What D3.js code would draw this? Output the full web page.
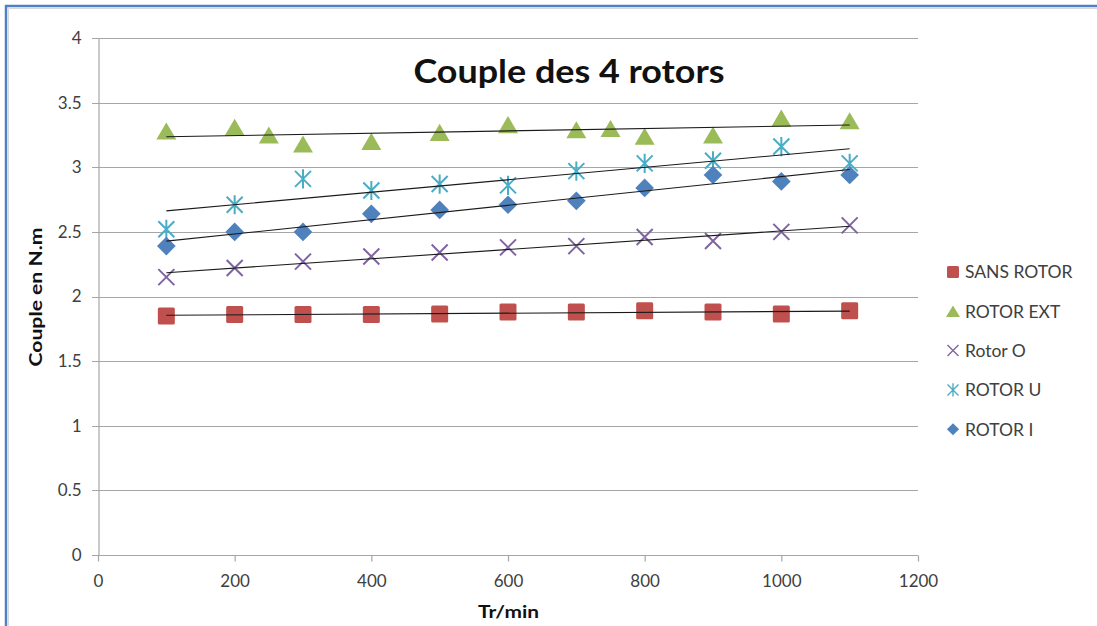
<!DOCTYPE html>
<html><head><meta charset="utf-8">
<script src="https://cdn.jsdelivr.net/npm/d3@7"></script>
<style>
html,body{margin:0;padding:0;background:#fff;}
svg{display:block;font-family:Lato, "Open Sans", sans-serif;}
</style></head>
<body>
<svg id="c" width="1097" height="626"></svg>
<script>
const xTicks = [0,200,400,600,800,1000,1200];
const yTicks = [0,0.5,1,1.5,2,2.5,3,3.5,4];
const yTickLabels = ["0","0.5","1","1.5","2","2.5","3","3.5","4"];

const xStd = [100,200,300,400,500,600,700,800,900,1000,1100];
const sansRotor = [1.85,1.86,1.86,1.86,1.865,1.88,1.88,1.89,1.88,1.865,1.89];
const xExt = [100,200,250,300,400,500,600,700,750,800,900,1000,1100];
const rotorExt = [3.28,3.31,3.25,3.18,3.20,3.27,3.33,3.29,3.30,3.24,3.25,3.38,3.36];
const rotorO = [2.15,2.22,2.27,2.31,2.34,2.38,2.39,2.46,2.43,2.50,2.55];
const rotorU = [2.52,2.71,2.91,2.82,2.87,2.86,2.97,3.03,3.05,3.16,3.03];
const rotorI = [2.39,2.50,2.50,2.64,2.67,2.71,2.74,2.84,2.94,2.89,2.94];

const seriesNames = ["SANS ROTOR","ROTOR EXT","Rotor O","ROTOR U","ROTOR I"];
const seriesColors = ["#C0504D","#9BBB59","#8064A2","#4BACC6","#4F81BD"];
const seriesX = [xStd,xExt,xStd,xStd,xStd];
const seriesY = [sansRotor,rotorExt,rotorO,rotorU,rotorI];
const seriesShape = ["square","triangle","x","asterisk","diamond"];

const svg = d3.select("#c");
const x = d3.scaleLinear().domain([0,1200]).range([98,918]);
const y = d3.scaleLinear().domain([0,4]).range([555,38]);

// frame
svg.append("line").attr("x1",5).attr("x2",1097).attr("y1",6).attr("y2",6).attr("stroke","#4F81C7").attr("stroke-width",2.5);
svg.append("line").attr("x1",6).attr("x2",6).attr("y1",5).attr("y2",626).attr("stroke","#4F81C7").attr("stroke-width",2.5);
svg.append("line").attr("x1",8.5).attr("x2",1097).attr("y1",8.5).attr("y2",8.5).attr("stroke","#d8d8d8").attr("stroke-width",1);
svg.append("line").attr("x1",8.5).attr("x2",8.5).attr("y1",8.5).attr("y2",626).attr("stroke","#d8d8d8").attr("stroke-width",1);

// gridlines
svg.append("g").selectAll("line").data(yTicks).join("line")
  .attr("x1",x(0)-6).attr("x2",x(1200)).attr("y1",d=>Math.round(y(d))+0.5).attr("y2",d=>Math.round(y(d))+0.5)
  .attr("stroke","#a6a6a6").attr("stroke-width",1.2);

// y axis
const ya = svg.append("g").attr("transform",`translate(${x(0)+0.5},0)`)
  .call(d3.axisLeft(y).tickValues(yTicks).tickFormat((d,i)=>yTickLabels[i]).tickSize(0).tickPadding(17));
ya.select(".domain").attr("stroke","#a6a6a6").attr("stroke-width",1.2);
ya.selectAll("text").attr("font-size",17).attr("fill","#404040").attr("font-family","Lato");

// x axis
const xa = svg.append("g").attr("transform",`translate(0,${Math.round(y(0))+0.5})`)
  .call(d3.axisBottom(x).tickValues(xTicks).tickFormat(d=>String(d)).tickSize(6).tickPadding(13));
xa.select(".domain").remove();
xa.selectAll("line").attr("stroke","#a6a6a6").attr("stroke-width",1.2);
xa.selectAll("text").attr("font-size",17).attr("fill","#404040").attr("font-family","Lato");

// markers
function drawMarker(g, shape, color, s){
  if(shape==="square"){
    g.append("rect").attr("x",-s/2).attr("y",-s/2).attr("width",s).attr("height",s).attr("rx",1.5).attr("fill",color);
  } else if(shape==="triangle"){
    const h=s*0.95;
    g.append("path").attr("d",`M0,${-h/2}L${s/2+1},${h/2}L${-s/2-1},${h/2}Z`).attr("fill",color);
  } else if(shape==="diamond"){
    const r=s*0.55;
    g.append("path").attr("d",`M0,${-r}L${r},0L0,${r}L${-r},0Z`).attr("fill",color);
  } else if(shape==="x"){
    const r=s/2;
    g.append("path").attr("d",`M${-r},${-r}L${r},${r}M${-r},${r}L${r},${-r}`).attr("stroke",color).attr("stroke-width",Math.max(1.2,s/8)).attr("fill","none");
  } else if(shape==="asterisk"){
    const r=s/2;
    g.append("path").attr("d",`M${-r},${-r}L${r},${r}M${-r},${r}L${r},${-r}M0,${-r*1.2}L0,${r*1.2}`).attr("stroke",color).attr("stroke-width",Math.max(1.2,s/8)).attr("fill","none");
  }
}

const sizes = [17,18,16,16,17];
seriesY.forEach((vals,si)=>{
  const g = svg.append("g");
  vals.forEach((v,i)=>{
    const mg = g.append("g").attr("transform",`translate(${x(seriesX[si][i])},${y(v)})`);
    drawMarker(mg, seriesShape[si], seriesColors[si], sizes[si]);
  });
});

// linear trendlines
seriesY.forEach((vals,si)=>{
  const xs = seriesX[si];
  const mx = d3.mean(xs), my = d3.mean(vals);
  const slope = d3.sum(xs,(xv,i)=>(xv-mx)*(vals[i]-my))/d3.sum(xs,xv=>(xv-mx)*(xv-mx));
  const icpt = my - slope*mx;
  const x0 = d3.min(xs), x1 = d3.max(xs);
  svg.append("line").attr("x1",x(x0)).attr("x2",x(x1))
    .attr("y1",y(icpt+slope*x0)).attr("y2",y(icpt+slope*x1))
    .attr("stroke","#1a1a1a").attr("stroke-width",1.1);
});

// legend
const lg = svg.append("g");
seriesNames.forEach((n,i)=>{
  const cy = 272 + i*39.3;
  const mg = lg.append("g").attr("transform",`translate(953,${cy})`);
  drawMarker(mg, seriesShape[i], seriesColors[i], i===0?12:(i===1?12:11));
  lg.append("text").attr("x",965).attr("y",cy).attr("dy","0.36em")
    .attr("font-size",17.5).attr("fill","#404040").text(n);
});

// titles
svg.append("text").attr("x",569).attr("y",83).attr("text-anchor","middle")
  .attr("font-size",33).attr("font-weight","bold").attr("fill","#111")
  .attr("textLength",311).attr("lengthAdjust","spacingAndGlyphs").text("Couple des 4 rotors");
svg.append("text").attr("x",508.5).attr("y",618).attr("text-anchor","middle")
  .attr("font-size",16.5).attr("font-weight","bold").attr("fill","#111")
  .attr("textLength",61).attr("lengthAdjust","spacingAndGlyphs").text("Tr/min");
svg.append("text").attr("transform","translate(42,297) rotate(-90)").attr("text-anchor","middle")
  .attr("font-size",16.5).attr("font-weight","bold").attr("fill","#111")
  .attr("textLength",139).attr("lengthAdjust","spacingAndGlyphs").text("Couple en N.m");
</script>
</body></html>
